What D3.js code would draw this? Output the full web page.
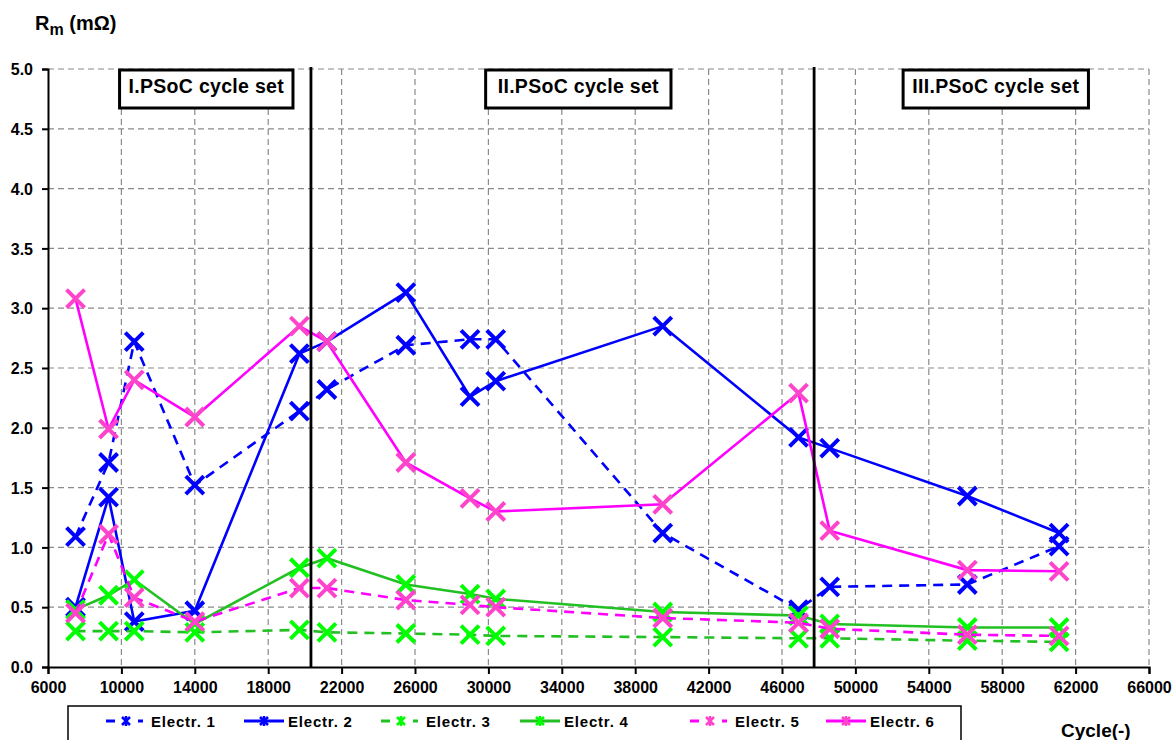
<!DOCTYPE html>
<html>
<head>
<meta charset="utf-8">
<script src="https://cdn.jsdelivr.net/npm/d3@7"></script>
<style>
  html, body { margin: 0; padding: 0; background: #fff; }
  svg { display: block; font-family: "Liberation Sans", Arial, sans-serif; }
</style>
</head>
<body>
<svg id="chart" width="1173" height="740"></svg>
<script>
// Measurement cycles (x values shared by all electrodes)
const cycles = [7500, 9300, 10700, 14000, 19700, 21200, 25500, 29000, 30400, 39500, 46900, 48600, 56100, 61100];

// Rm values in mΩ for each electrode
const electr1 = [1.09, 1.71, 2.72, 1.52, 2.14, 2.32, 2.69, 2.74, 2.74, 1.12, 0.48, 0.67, 0.69, 1.01];
const electr2 = [0.50, 1.42, 0.38, 0.47, 2.62, 2.72, 3.13, 2.26, 2.39, 2.85, 1.92, 1.83, 1.43, 1.12];
const electr3 = [0.30, 0.30, 0.30, 0.29, 0.31, 0.29, 0.28, 0.27, 0.26, 0.25, 0.24, 0.24, 0.22, 0.21];
const electr4 = [0.48, 0.60, 0.73, 0.36, 0.83, 0.91, 0.69, 0.61, 0.57, 0.46, 0.43, 0.36, 0.33, 0.33];
const electr5 = [0.45, 1.11, 0.58, 0.38, 0.66, 0.66, 0.56, 0.52, 0.50, 0.41, 0.37, 0.32, 0.27, 0.26];
const electr6 = [3.08, 1.99, 2.40, 2.09, 2.85, 2.72, 1.71, 1.41, 1.30, 1.36, 2.29, 1.14, 0.81, 0.80];

const seriesNames = ["Electr. 1", "Electr. 2", "Electr. 3", "Electr. 4", "Electr. 5", "Electr. 6"];

// Axis ticks
const xTicks = [6000, 10000, 14000, 18000, 22000, 26000, 30000, 34000, 38000, 42000, 46000, 50000, 54000, 58000, 62000, 66000];
const yTicks = [0, 0.5, 1, 1.5, 2, 2.5, 3, 3.5, 4, 4.5, 5];

// Cycle set boundaries and labels
const setBoundaries = [20330, 47750];
const setLabels = ["I.PSoC cycle set", "II.PSoC cycle set", "III.PSoC cycle set"];
const setLabelStarts = [9900, 29850, 52600];
const setLabelEnds = [19350, 39950, 62700];

// Styling per series
const styles = [
  { line: "#0000ff", marker: "#0000ff", dash: "10,7" },
  { line: "#0000ff", marker: "#0000ff", dash: null },
  { line: "#22c022", marker: "#00ff00", dash: "10,7" },
  { line: "#22c022", marker: "#00ff00", dash: null },
  { line: "#ff00ff", marker: "#ff44cc", dash: "10,7" },
  { line: "#ff00ff", marker: "#ff44cc", dash: null }
];

const data = [electr1, electr2, electr3, electr4, electr5, electr6];

const svg = d3.select("#chart");
const x = d3.scaleLinear().domain([6000, 66000]).range([48, 1149]);
const y = d3.scaleLinear().domain([0, 5]).range([667, 69]);

// Grid
const grid = svg.append("g").attr("stroke", "#8a8a8a").attr("stroke-width", 1.2).attr("stroke-dasharray", "6,4");
grid.selectAll("line.h").data(yTicks.filter(d => d > 0)).join("line")
  .attr("x1", x(6000)).attr("x2", x(66000))
  .attr("y1", d => y(d)).attr("y2", d => y(d));
grid.selectAll("line.v").data(xTicks.filter(d => d > 6000)).join("line")
  .attr("x1", d => x(d)).attr("x2", d => x(d))
  .attr("y1", y(5)).attr("y2", y(0));

// Axes
const xAxis = svg.append("g").attr("transform", `translate(0,${y(0)})`)
  .call(d3.axisBottom(x).tickValues(xTicks).tickFormat(d3.format("d")).tickSizeOuter(0).tickSize(7).tickPadding(8));
const yAxis = svg.append("g").attr("transform", `translate(${x(6000)},0)`)
  .call(d3.axisLeft(y).tickValues(yTicks).tickFormat(d3.format(".1f")).tickSizeOuter(0).tickSize(6).tickPadding(9));
[xAxis, yAxis].forEach(a => {
  a.select(".domain").attr("stroke", "#000").attr("stroke-width", 2);
  a.selectAll(".tick line").attr("stroke", "#000").attr("stroke-width", 2);
  a.selectAll(".tick text").attr("fill", "#000").attr("font-size", 16).attr("font-weight", "bold")
    .attr("font-family", "'Liberation Sans', Arial, sans-serif");
});
yAxis.selectAll(".tick text").attr("dy", "0.35em");

// Series lines and markers
const lineGen = d3.line().x(d => x(d[0])).y(d => y(d[1]));
const markerSize = 9;
data.forEach((vals, i) => {
  const pts = cycles.map((c, j) => [c, vals[j]]);
  const st = styles[i];
  const g = svg.append("g");
  g.append("path").attr("d", lineGen(pts)).attr("fill", "none")
    .attr("stroke", st.line).attr("stroke-width", 2.6)
    .attr("stroke-dasharray", st.dash);
  g.selectAll("path.m").data(pts).join("path").attr("class", "m")
    .attr("d", d => {
      const cx = x(d[0]), cy = y(d[1]), s = markerSize;
      return `M${cx - s},${cy - s}L${cx + s},${cy + s}M${cx - s},${cy + s}L${cx + s},${cy - s}`;
    })
    .attr("stroke", st.marker).attr("stroke-width", 4).attr("fill", "none");
});

// Cycle set boundaries
svg.append("g").selectAll("line").data(setBoundaries).join("line")
  .attr("x1", d => x(d)).attr("x2", d => x(d))
  .attr("y1", y(5) - 2).attr("y2", y(0))
  .attr("stroke", "#000").attr("stroke-width", 2.8);

// Cycle set label boxes
const boxes = svg.append("g").selectAll("g").data(setLabels).join("g");
boxes.append("rect")
  .attr("x", (d, i) => x(setLabelStarts[i]))
  .attr("y", y(5) + 1)
  .attr("width", (d, i) => x(setLabelEnds[i]) - x(setLabelStarts[i]))
  .attr("height", 38)
  .attr("fill", "#fff").attr("stroke", "#000").attr("stroke-width", 3);
boxes.append("text")
  .attr("x", (d, i) => (x(setLabelStarts[i]) + x(setLabelEnds[i])) / 2)
  .attr("y", y(5) + 24)
  .attr("text-anchor", "middle")
  .attr("font-size", 19.5).attr("font-weight", "bold").attr("fill", "#000")
  .attr("letter-spacing", 0.3)
  .text(d => d);

// Axis titles
const yTitle = svg.append("text").attr("x", 35).attr("y", 30).attr("font-size", 20).attr("font-weight", "bold");
yTitle.append("tspan").text("R");
yTitle.append("tspan").attr("font-size", 16).attr("dy", 5).text("m");
yTitle.append("tspan").attr("dy", -5).text(" (mΩ)");

svg.append("text").attr("x", 1061).attr("y", 737).attr("font-size", 19).attr("font-weight", "bold").text("Cycle(-)");

// Legend
const legend = svg.append("g");
legend.append("rect").attr("x", 68).attr("y", 706).attr("width", 893).attr("height", 50)
  .attr("fill", "#fff").attr("stroke", "#000").attr("stroke-width", 1.5);
const legendX = [106, 244, 381, 520, 690, 826];
const ly = 721;
seriesNames.forEach((name, i) => {
  const st = styles[i];
  const lx = legendX[i];
  const g = legend.append("g");
  if (st.dash) {
    g.append("line").attr("x1", lx).attr("x2", lx + 9).attr("y1", ly).attr("y2", ly).attr("stroke", st.line).attr("stroke-width", 3);
    g.append("line").attr("x1", lx + 32).attr("x2", lx + 37).attr("y1", ly).attr("y2", ly).attr("stroke", st.line).attr("stroke-width", 3);
  } else {
    g.append("line").attr("x1", lx).attr("x2", lx + 40).attr("y1", ly).attr("y2", ly).attr("stroke", st.line).attr("stroke-width", 3);
  }
  const cx = lx + 20, s = 4;
  g.append("path")
    .attr("d", `M${cx - s},${ly - s}L${cx + s},${ly + s}M${cx - s},${ly + s}L${cx + s},${ly - s}M${cx},${ly - s - 1}L${cx},${ly + s + 1}`)
    .attr("stroke", st.marker).attr("stroke-width", 2.5);
  g.append("text").attr("x", lx + (st.dash ? 45 : 44)).attr("y", ly + 5.5).attr("font-size", 15).attr("font-weight", "bold")
    .attr("letter-spacing", 0.8)
    .attr("fill", "#000").text(name);
});
</script>
</body>
</html>
